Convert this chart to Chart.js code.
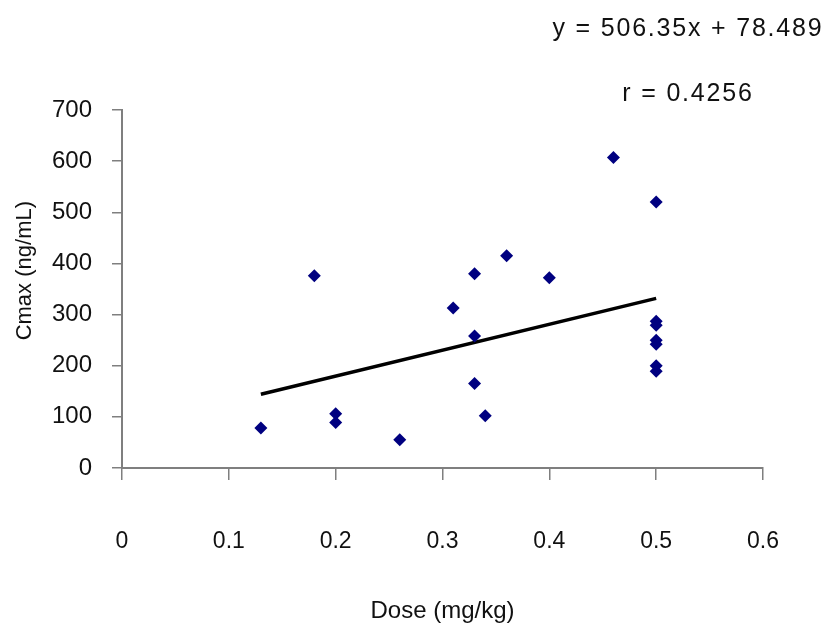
<!DOCTYPE html>
<html>
<head>
<meta charset="utf-8">
<script src="https://cdn.jsdelivr.net/npm/chart.js@4.4.1/dist/chart.umd.min.js"></script>
<style>
  html, body { margin: 0; padding: 0; background: #ffffff; }
  #wrap { width: 829px; height: 624px; position: relative; }
</style>
</head>
<body>
<div id="wrap"><canvas id="c" width="829" height="624"></canvas></div>
<script>
// ---- data ----
const doseValues = [0.13, 0.18, 0.20, 0.20, 0.26, 0.31, 0.33, 0.33, 0.33, 0.34, 0.36, 0.40, 0.46, 0.50, 0.50, 0.50, 0.50, 0.50, 0.50, 0.50];
const cmaxValues = [78, 376, 106, 89, 55, 313, 380, 258, 165, 102, 415, 372, 607, 520, 287, 279, 250, 242, 200, 189];
const trendDose = [0.13, 0.50];
const trendCmax = [144.3, 331.7];
const xTickValues = [0, 0.1, 0.2, 0.3, 0.4, 0.5, 0.6];
const yTickValues = [0, 100, 200, 300, 400, 500, 600, 700];
const equationText = 'y = 506.35x + 78.489';
const rText = 'r = 0.4256';
const xTitle = 'Dose (mg/kg)';
const yTitle = 'Cmax (ng/mL)';

const scatterPoints = doseValues.map((d, i) => ({ x: d, y: cmaxValues[i] }));
const trendPoints = trendDose.map((d, i) => ({ x: d, y: trendCmax[i] }));

const AXIS_GRAY = '#7f7f7f';
const FONT = '"Liberation Sans", Arial, Helvetica, sans-serif';

const annotationPlugin = {
  id: 'eqText',
  afterDraw(chart) {
    const ctx = chart.ctx;
    ctx.save();
    ctx.fillStyle = '#111111';
    ctx.font = '25px ' + FONT;
    try { ctx.letterSpacing = '1.8px'; } catch (e) {}
    ctx.textAlign = 'center';
    ctx.textBaseline = 'middle';
    ctx.fillText(equationText, 688, 29);
    ctx.fillText(rText, 688, 94);
    ctx.restore();
  }
};

new Chart(document.getElementById('c'), {
  type: 'scatter',
  data: {
    datasets: [
      {
        label: 'Cmax',
        data: scatterPoints,
        pointStyle: 'rectRot',
        pointRadius: 6.5,
        pointHoverRadius: 6.5,
        backgroundColor: '#000080',
        borderColor: '#000080',
        borderWidth: 0,
        order: 1
      },
      {
        type: 'line',
        label: 'Trend',
        data: trendPoints,
        borderColor: '#000000',
        borderWidth: 3.5,
        pointRadius: 0,
        fill: false,
        order: 2
      }
    ]
  },
  options: {
    responsive: false,
    animation: false,
    devicePixelRatio: 1,
    layout: { padding: { left: 0, top: 110, right: 66, bottom: 0 } },
    plugins: {
      legend: { display: false },
      tooltip: { enabled: false },
      title: { display: false }
    },
    scales: {
      x: {
        type: 'linear',
        min: 0,
        max: 0.6,
        afterBuildTicks: (scale) => { scale.ticks = xTickValues.map(v => ({ value: v })); },
        afterFit: (scale) => { scale.height = 156; },
        ticks: {
          color: '#111111',
          font: { family: FONT, size: 23 },
          padding: 48,
          maxRotation: 0,
          callback: (v) => String(v)
        },
        grid: {
          drawOnChartArea: false,
          drawTicks: true,
          tickLength: 12,
          color: AXIS_GRAY,
          lineWidth: 1.5
        },
        border: { display: true, color: AXIS_GRAY, width: 2 },
        title: {
          display: true,
          text: xTitle,
          color: '#111111',
          font: { family: FONT, size: 24 },
          padding: { top: 0, bottom: -2 }
        }
      },
      y: {
        type: 'linear',
        min: 0,
        max: 700,
        afterBuildTicks: (scale) => { scale.ticks = yTickValues.map(v => ({ value: v })); },
        afterFit: (scale) => { scale.width = 122; },
        ticks: {
          color: '#111111',
          font: { family: FONT, size: 24 },
          padding: 20
        },
        grid: {
          drawOnChartArea: false,
          drawTicks: true,
          tickLength: 10,
          color: AXIS_GRAY,
          lineWidth: 1.5
        },
        border: { display: true, color: AXIS_GRAY, width: 2 },
        title: {
          display: true,
          text: '      ' + yTitle,
          color: '#111111',
          font: { family: FONT, size: 22 },
          padding: { top: 12, bottom: 0 }
        }
      }
    }
  },
  plugins: [annotationPlugin]
});
</script>
</body>
</html>
